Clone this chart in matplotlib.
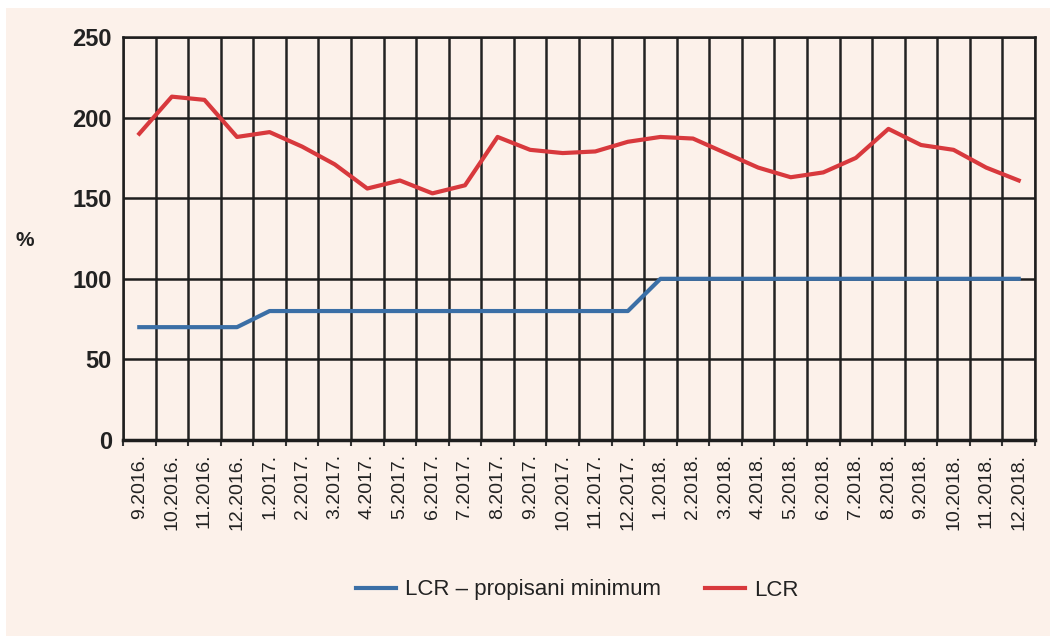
import numpy as np
import matplotlib.pyplot as plt
from matplotlib.patches import Rectangle

months = ["9.2016.", "10.2016.", "11.2016.", "12.2016.",
          "1.2017.", "2.2017.", "3.2017.", "4.2017.", "5.2017.", "6.2017.",
          "7.2017.", "8.2017.", "9.2017.", "10.2017.", "11.2017.", "12.2017.",
          "1.2018.", "2.2018.", "3.2018.", "4.2018.", "5.2018.", "6.2018.",
          "7.2018.", "8.2018.", "9.2018.", "10.2018.", "11.2018.", "12.2018."]
lcr = [190, 213, 211, 188, 191, 182, 171, 156, 161, 153, 158, 188, 180, 178,
       179, 185, 188, 187, 178, 169, 163, 166, 175, 193, 183, 180, 169, 161]
lcr_min = [70, 70, 70, 70, 80, 80, 80, 80, 80, 80, 80, 80, 80, 80, 80, 80,
           100, 100, 100, 100, 100, 100, 100, 100, 100, 100, 100, 100]

bg = "#fcf1ea"
plt.rcParams['font.family'] = ['Liberation Sans', 'DejaVu Sans']

fig = plt.figure(figsize=(10.5, 6.36), dpi=100, facecolor="white")
fig.patches.append(Rectangle((6 / 1050, 0), 1, 1 - 8 / 636, transform=fig.transFigure,
                             facecolor=bg, edgecolor="none", zorder=-10))
ax = fig.add_axes([123 / 1050, 1 - 440 / 636, (1035 - 123) / 1050, (440 - 37) / 636])
ax.set_facecolor(bg)

x = np.arange(len(months))
ax.plot(x, lcr_min, color="#3b6fa6", lw=3, label="LCR – propisani minimum", zorder=3)
ax.plot(x, lcr, color="#d8393d", lw=3, label="LCR", zorder=3)

ax.set_xlim(-0.5, len(months) - 0.5)
ax.set_ylim(0, 250)
ax.set_yticks([0, 50, 100, 150, 200, 250])
ax.set_xticks(x)
ax.set_xticklabels(months, rotation=90, fontsize=14, color="#222222")
ax.set_xticks(np.arange(-0.5, len(months)), minor=True)
ax.tick_params(axis="x", which="major", length=0, pad=10)
ax.tick_params(axis="x", which="minor", length=4, width=1.5, color="#333333")
ax.tick_params(axis="y", length=0, pad=8, labelsize=17)
for t in ax.get_yticklabels():
    t.set_fontweight("bold")
    t.set_color("#222222")

ax.grid(True, which="minor", axis="x", color="#222222", lw=1.8)
ax.grid(True, which="major", axis="y", color="#1e1e1e", lw=1.8)
for s in ax.spines.values():
    s.set_color("#1e1e1e")
    s.set_linewidth(1.8)
ax.spines["bottom"].set_linewidth(2.5)

fig.text(25 / 1050, 1 - 240 / 636, "%", fontsize=15, fontweight="bold",
         color="#222222", ha="center", va="center")

leg = fig.legend(loc="center", bbox_to_anchor=(577 / 1050, 1 - 590 / 636), ncol=2,
                 frameon=False, fontsize=16, handlelength=1.8, columnspacing=2.0,
                 handletextpad=0.4)
for t in leg.get_texts():
    t.set_color("#222222")

fig.savefig("out.png", dpi=100, facecolor=fig.get_facecolor())
